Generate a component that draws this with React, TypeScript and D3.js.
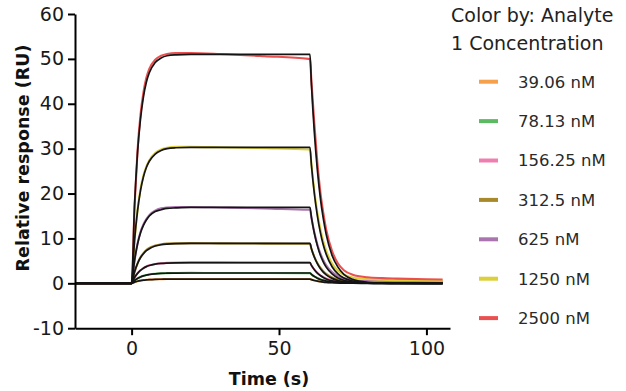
import { useRef, useEffect } from "react";
import * as d3 from "d3";

// time points (s) shared by every sensorgram
const times = [-19, 0, 1, 2, 3, 4, 5, 6, 8, 10, 12, 15, 20, 30, 45, 60, 60.5, 61, 62, 63, 64, 65, 66, 68, 70, 72, 75, 80, 85, 90, 100, 105.5];

const concentrations = ["39.06 nM", "78.13 nM", "156.25 nM", "312.5 nM", "625 nM", "1250 nM", "2500 nM"];
const colors = ["#f5a04a", "#5cba62", "#ef7fb0", "#a8892c", "#aa74ae", "#dccf3a", "#eb5050"];

// measured response (RU)
const resp39 = [0, 0, 0.25, 0.45, 0.6, 0.7, 0.78, 0.83, 0.9, 0.93, 0.95, 0.96, 0.97, 0.97, 0.96, 0.95, 0.95, 0.84, 0.65, 0.5, 0.4, 0.32, 0.26, 0.18, 0.14, 0.12, 0.1, 0.08, 0.08, 0.07, 0.07, 0.07];
const resp78 = [0, 0, 0.6, 1.08, 1.42, 1.67, 1.85, 1.98, 2.14, 2.23, 2.28, 2.3, 2.32, 2.3, 2.3, 2.28, 2.28, 2.0, 1.53, 1.17, 0.9, 0.7, 0.55, 0.35, 0.24, 0.18, 0.14, 0.12, 0.12, 0.1, 0.1, 0.1];
const resp156 = [0, 0, 1.25, 2.2, 2.9, 3.4, 3.75, 4.0, 4.3, 4.45, 4.55, 4.6, 4.62, 4.6, 4.58, 4.55, 4.55, 4.0, 3.05, 2.35, 1.8, 1.4, 1.1, 0.7, 0.45, 0.33, 0.25, 0.2, 0.2, 0.18, 0.18, 0.18];
const resp312 = [0, 0, 2.5, 4.4, 5.8, 6.7, 7.4, 7.9, 8.4, 8.7, 8.85, 8.9, 8.95, 8.9, 8.85, 8.8, 8.8, 7.7, 5.9, 4.5, 3.5, 2.7, 2.1, 1.3, 0.85, 0.6, 0.45, 0.35, 0.3, 0.3, 0.3, 0.28];
const resp625 = [0, 0, 5.0, 8.8, 11.4, 13.1, 14.3, 15.2, 16.2, 16.7, 16.9, 17.0, 17.0, 16.9, 16.7, 16.4, 16.4, 14.6, 11.3, 8.7, 6.7, 5.2, 4.0, 2.5, 1.6, 1.1, 0.75, 0.55, 0.48, 0.45, 0.4, 0.4];
const resp1250 = [0, 0, 9.4, 16.3, 21.0, 24.0, 26.0, 27.4, 29.0, 29.8, 30.2, 30.4, 30.4, 30.3, 30.1, 29.8, 29.7, 26.5, 20.5, 15.8, 12.2, 9.4, 7.3, 4.4, 2.8, 1.9, 1.3, 0.95, 0.8, 0.7, 0.65, 0.6];
const resp2500 = [0, 0, 17.0, 29.5, 37.5, 42.5, 45.8, 47.8, 49.8, 50.7, 51.1, 51.3, 51.3, 51.1, 50.6, 50.0, 49.9, 45.0, 35.5, 27.0, 20.5, 15.8, 12.0, 7.2, 4.4, 2.9, 1.9, 1.35, 1.15, 1.05, 0.9, 0.85];

// fitted curves (RU)
const fit39 = [0, 0, 0.26, 0.45, 0.59, 0.69, 0.76, 0.81, 0.88, 0.91, 0.93, 0.94, 0.95, 0.95, 0.95, 0.95, 0.95, 0.83, 0.62, 0.47, 0.36, 0.27, 0.2, 0.12, 0.07, 0.04, 0.02, 0, 0, 0, 0, 0];
const fit78 = [0, 0, 0.63, 1.09, 1.42, 1.66, 1.84, 1.96, 2.12, 2.21, 2.25, 2.28, 2.3, 2.3, 2.3, 2.3, 2.3, 2.0, 1.51, 1.14, 0.86, 0.65, 0.49, 0.28, 0.16, 0.09, 0.04, 0.01, 0, 0, 0, 0];
const fit156 = [0, 0, 1.29, 2.22, 2.89, 3.37, 3.72, 3.97, 4.27, 4.43, 4.51, 4.57, 4.6, 4.6, 4.6, 4.6, 4.6, 4.0, 3.02, 2.29, 1.73, 1.31, 0.98, 0.56, 0.32, 0.18, 0.08, 0.02, 0, 0, 0, 0];
const fit312 = [0, 0, 2.6, 4.4, 5.7, 6.6, 7.3, 7.7, 8.3, 8.6, 8.75, 8.85, 8.9, 8.9, 8.9, 8.9, 8.9, 7.7, 5.8, 4.4, 3.3, 2.5, 1.9, 1.1, 0.62, 0.36, 0.15, 0.04, 0.01, 0, 0, 0];
const fit625 = [0, 0, 5.1, 8.7, 11.2, 12.9, 14.1, 15.0, 16.0, 16.4, 16.7, 16.8, 16.9, 16.9, 16.9, 16.9, 16.9, 14.7, 11.1, 8.4, 6.3, 4.8, 3.6, 2.1, 1.2, 0.68, 0.29, 0.07, 0.02, 0, 0, 0];
const fit1250 = [0, 0, 9.6, 16.1, 20.6, 23.7, 25.8, 27.2, 28.8, 29.6, 30.0, 30.2, 30.3, 30.3, 30.3, 30.3, 30.3, 26.3, 19.9, 15.1, 11.4, 8.6, 6.5, 3.7, 2.1, 1.2, 0.52, 0.13, 0.03, 0.01, 0, 0];
const fit2500 = [0, 0, 17.5, 29.0, 36.5, 41.5, 44.8, 46.9, 49.2, 50.2, 50.7, 50.9, 51.0, 51.0, 51.0, 51.0, 51.0, 44.3, 33.5, 25.3, 19.1, 14.5, 10.9, 6.2, 3.6, 2.0, 0.87, 0.22, 0.06, 0.02, 0, 0];

const responses = [resp39, resp78, resp156, resp312, resp625, resp1250, resp2500];
const fits = [fit39, fit78, fit156, fit312, fit625, fit1250, fit2500];

const yTicks = [-10, 0, 10, 20, 30, 40, 50, 60];
const xTicks = [0, 50, 100];

const FONT = "'DejaVu Sans', sans-serif";

export default function App() {
  const svgRef = useRef<SVGSVGElement>(null);

  useEffect(() => {
    const svg = svgRef.current;
    if (!svg) return;

    const width = 626;
    const height = 391;

    const x = d3.scaleLinear().domain([-19.2, 108]).range([75, 450]);
    const y = d3.scaleLinear().domain([-10, 60]).range([328.2, 14]);

    const line = d3
      .line<[number, number]>()
      .x((d) => x(d[0]))
      .y((d) => y(d[1]))
      .curve(d3.curveMonotoneX);

    const sel = d3.select(svg);
    sel.selectAll("*").remove();
    sel.attr("width", width).attr("height", height);

    // measured traces under the fits
    const traces = sel.append("g");
    responses.forEach((vals, i) => {
      traces
        .append("path")
        .datum(times.map((t, j) => [t, vals[j]] as [number, number]))
        .attr("fill", "none")
        .attr("stroke", colors[i])
        .attr("stroke-width", 2.1)
        .attr("stroke-linejoin", "round")
        .attr("d", line);
    });

    const fitG = sel.append("g");
    fits.forEach((vals) => {
      fitG
        .append("path")
        .datum(times.map((t, j) => [t, vals[j]] as [number, number]))
        .attr("fill", "none")
        .attr("stroke", "#141414")
        .attr("stroke-width", 1.7)
        .attr("stroke-linejoin", "round")
        .attr("d", line);
    });

    // Axes
    sel
      .append("g")
      .attr("transform", `translate(75,0)`)
      .call(d3.axisLeft(y).tickValues(yTicks).tickFormat((d) => `${d}`).tickSize(7).tickSizeOuter(0).tickPadding(4))
      .call((g) => g.selectAll("text").attr("fill", "#1a1a1a").attr("font-size", "19px").attr("font-family", FONT))
      .call((g) => g.selectAll("line,path").attr("stroke", "#000").attr("stroke-width", 2));

    sel
      .append("g")
      .attr("transform", `translate(0,${y(-10)})`)
      .call(d3.axisBottom(x).tickValues(xTicks).tickFormat((d) => `${d}`).tickSize(7).tickSizeOuter(0).tickPadding(6))
      .call((g) => g.selectAll("text").attr("fill", "#1a1a1a").attr("font-size", "19px").attr("font-family", FONT))
      .call((g) => g.selectAll("line,path").attr("stroke", "#000").attr("stroke-width", 2));

    // Axis titles
    sel
      .append("text")
      .attr("transform", `translate(29,158) rotate(-90)`)
      .attr("text-anchor", "middle")
      .attr("font-family", FONT)
      .attr("font-weight", "bold")
      .attr("font-size", "17.5px")
      .attr("fill", "#111")
      .text("Relative response (RU)");

    sel
      .append("text")
      .attr("x", 269)
      .attr("y", 385)
      .attr("text-anchor", "middle")
      .attr("font-family", FONT)
      .attr("font-weight", "bold")
      .attr("font-size", "17.5px")
      .attr("fill", "#111")
      .text("Time (s)");

    // Legend
    const leg = sel.append("g").attr("font-family", FONT);
    leg.append("text").attr("x", 451).attr("y", 22).attr("font-size", "19px").attr("fill", "#222").text("Color by: Analyte");
    leg.append("text").attr("x", 451).attr("y", 50).attr("font-size", "19px").attr("fill", "#222").text("1 Concentration");

    const items = leg
      .selectAll("g.item")
      .data(concentrations)
      .join("g")
      .attr("class", "item")
      .attr("transform", (_, i) => `translate(0,${81.7 + i * 39.4})`);

    items
      .append("line")
      .attr("x1", 479)
      .attr("x2", 498)
      .attr("stroke", (_, i) => colors[i])
      .attr("stroke-width", 4);

    items
      .append("text")
      .attr("x", 518)
      .attr("dy", "0.36em")
      .attr("font-size", "16.5px")
      .attr("fill", "#2a2a2a")
      .text((d) => d);
  }, []);

  return <svg ref={svgRef} style={{ position: "absolute", left: 0, top: 0 }} />;
}
